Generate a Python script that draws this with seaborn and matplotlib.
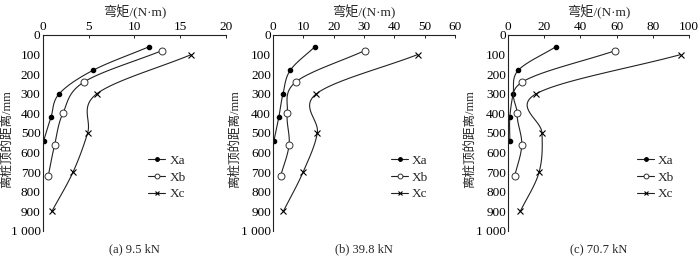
import numpy as np
import matplotlib
matplotlib.use("Agg")
import matplotlib.pyplot as plt
from matplotlib.lines import Line2D
import seaborn as sns

# depth below pile top (mm)
depth_a = [60, 180, 300, 420, 540]
depth_b = [80, 240, 400, 560, 720]
depth_c = [100, 300, 500, 700, 900]

# bending moment (N·m) per load case
m_95_xa = [11.6, 5.5, 1.8, 0.9, 0.1]
m_95_xb = [13.0, 4.5, 2.2, 1.3, 0.6]
m_95_xc = [16.2, 5.9, 4.9, 3.3, 1.0]

m_398_xa = [13.8, 5.7, 3.3, 1.9, 0.3]
m_398_xb = [30.2, 7.5, 4.7, 5.3, 2.5]
m_398_xc = [47.7, 14.3, 14.6, 9.9, 3.4]

m_707_xa = [26.4, 5.6, 2.7, 0.9, 0.9]
m_707_xb = [59.3, 7.8, 4.9, 7.5, 3.6]
m_707_xc = [95.5, 15.5, 18.7, 17.1, 6.7]

captions = ["(a) 9.5 kN", "(b) 39.8 kN", "(c) 70.7 kN"]
xmax = [20, 60, 100]
xticks = [[0, 5, 10, 15, 20], [0, 10, 20, 30, 40, 50, 60], [0, 20, 40, 60, 80, 100]]
yticks = [0, 100, 200, 300, 400, 500, 600, 700, 800, 900, 1000]
ytick_labels = ["0", "100", "200", "300", "400", "500", "600", "700", "800", "900", "1 000"]
series = ["Xa", "Xb", "Xc"]
panels = [
    [m_95_xa, m_95_xb, m_95_xc],
    [m_398_xa, m_398_xb, m_398_xc],
    [m_707_xa, m_707_xb, m_707_xc],
]
depths = [depth_a, depth_b, depth_c]

sns.set_theme(style="white")
plt.rcParams["font.family"] = ["Liberation Serif", "Noto Sans CJK SC"]
plt.rcParams["font.size"] = 9
plt.rcParams["axes.unicode_minus"] = False

styles = {
    "Xa": dict(marker="o", ms=3, mfc="black", mec="black"),
    "Xb": dict(marker="o", ms=5, mfc="white", mec="#333333", mew=0.7),
    "Xc": dict(marker="x", ms=4, mfc="none", mec="black", mew=0.8),
}
leg_styles = {
    "Xa": dict(marker="o", ms=2.5, mfc="black", mec="black"),
    "Xb": dict(marker="o", ms=3.5, mfc="white", mec="#333333", mew=0.7),
    "Xc": dict(marker="x", ms=3, mfc="none", mec="black", mew=0.8),
}


def smooth(xs, ys, xr, yr, n=30):
    # Catmull-Rom curve through the points, in axes-normalised space
    px = np.array(xs) / xr
    py = np.array(ys) / yr
    P = np.column_stack([px, py])
    P = np.vstack([2 * P[0] - P[1], P, 2 * P[-1] - P[-2]])
    out = []
    for i in range(1, len(P) - 2):
        p0, p1, p2, p3 = P[i - 1], P[i], P[i + 1], P[i + 2]
        t = np.linspace(0, 1, n)[:, None]
        c = 0.5 * ((2 * p1) + (-p0 + p2) * t + (2 * p0 - 5 * p1 + 4 * p2 - p3) * t ** 2
                   + (-p0 + 3 * p1 - 3 * p2 + p3) * t ** 3)
        out.append(c)
    c = np.vstack(out)
    return c[:, 0] * xr, c[:, 1] * yr


fig = plt.figure(figsize=(7, 2.61), dpi=100)
lefts = [0.061, 0.39, 0.726]
widths = [0.262, 0.26, 0.258]
leg_x = [0.576, 0.648, 0.713]
ylab_x = [-0.165, -0.175, -0.18]
bottom, top = 0.115, 0.866

for k in range(3):
    ax = fig.add_axes([lefts[k], bottom, widths[k], top - bottom])
    for name, vals, d in zip(series, panels[k], depths):
        sx, sy = smooth(vals, d, xmax[k], 1000)
        sns.lineplot(x=sx, y=sy, sort=False, estimator=None, ax=ax, color="#222222", lw=0.8)
        ax.plot(vals, d, ls="none", **styles[name])
    ax.set_xlim(0, xmax[k])
    ax.set_ylim(1000, 0)
    ax.set_xticks(xticks[k])
    ax.set_yticks(yticks)
    ax.set_yticklabels(ytick_labels)
    ax.xaxis.tick_top()
    ax.xaxis.set_label_position("top")
    ax.tick_params(direction="in", length=2.5, width=0.6, pad=1.5, labelsize=9.5, colors="black")
    for s in ["right", "bottom"]:
        ax.spines[s].set_visible(False)
    for s in ["left", "top"]:
        ax.spines[s].set_color("#222222")
        ax.spines[s].set_linewidth(0.8)
    ax.set_xlabel("弯矩/(N·m)", fontsize=9.5, labelpad=3)
    ax.set_ylabel("离桩顶的距离/mm", fontsize=9)
    ax.yaxis.set_label_coords(ylab_x[k], 0.47)
    handles = [Line2D([0], [0], color="#222222", lw=0.8, **leg_styles[n]) for n in series]
    ax.legend(handles, series, loc="upper left", bbox_to_anchor=(leg_x[k], 0.39), frameon=False,
              fontsize=9.5, handlelength=1.3, handletextpad=0.3, labelspacing=0.35,
              borderpad=0, borderaxespad=0)
    fig.text(lefts[k] + widths[k] / 2, 0.035, captions[k], ha="center", fontsize=9)

fig.savefig("out.png", dpi=100)
